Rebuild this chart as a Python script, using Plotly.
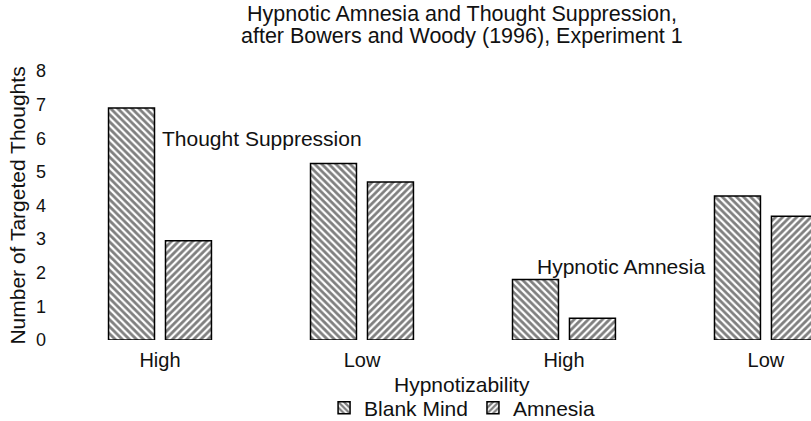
import plotly.graph_objects as go

# values
categories = ["High", "Low", "High", "Low"]
blank_mind = [6.9, 5.25, 1.8, 4.28]
amnesia = [2.95, 4.7, 0.65, 3.68]
y_ticks = [0, 1, 2, 3, 4, 5, 6, 7, 8]

FONT = "Liberation Sans, Arial, Helvetica, sans-serif"
x_pos = list(range(len(categories)))

fig = go.Figure()
fig.add_trace(go.Bar(
    name="Blank Mind", x=x_pos, y=blank_mind,
    marker=dict(color="white", line=dict(color="black", width=1.5),
                pattern=dict(shape="\\", size=5, solidity=0.55,
                             fgcolor="black", bgcolor="white")),
))
fig.add_trace(go.Bar(
    name="Amnesia", x=x_pos, y=amnesia,
    marker=dict(color="white", line=dict(color="black", width=1.5),
                pattern=dict(shape="/", size=5, solidity=0.55,
                             fgcolor="black", bgcolor="white")),
))

fig.update_layout(
    width=811, height=421,
    margin=dict(l=59, r=0, t=71, b=81, autoexpand=False),
    paper_bgcolor="white", plot_bgcolor="white",
    font=dict(family=FONT, size=21, color="#111"),
    barmode="group", bargap=0.436, bargroupgap=0.193,
    showlegend=True,
    legend=dict(orientation="h", x=0.536, xanchor="center", y=-0.253, yanchor="middle",
                font=dict(size=21), bgcolor="rgba(0,0,0,0)"),
)
fig.update_xaxes(tickvals=x_pos, ticktext=categories, range=[-0.5, 3.223],
                 showline=False, showgrid=False, zeroline=False, ticks="",
                 automargin=False, ticklabelstandoff=6, tickfont=dict(size=20))
fig.update_yaxes(range=[0, 8], tickvals=y_ticks, showline=False, showgrid=False,
                 zeroline=False, ticks="", ticklabelstandoff=12, automargin=False,
                 tickfont=dict(size=18),
                 title=dict(text="Number of Targeted Thoughts", standoff=4,
                            font=dict(size=21)))

# two title lines, placed separately to keep the tight line spacing of the scan
fig.add_annotation(text="Hypnotic Amnesia and Thought Suppression,", xref="paper", yref="paper",
                   x=0.536, y=1 + 57 / 269, xanchor="center", yanchor="middle", showarrow=False,
                   font=dict(size=21.5))
fig.add_annotation(text="after Bowers and Woody (1996), Experiment 1", xref="paper", yref="paper",
                   x=0.536, y=1 + 35 / 269, xanchor="center", yanchor="middle", showarrow=False,
                   font=dict(size=21.5))
fig.add_annotation(text="Hypnotizability", xref="paper", yref="paper",
                   x=0.536, y=-0.164, xanchor="center", yanchor="middle", showarrow=False)
fig.add_annotation(text="Thought Suppression", x=0, y=6, xanchor="left", yanchor="middle",
                   showarrow=False)
fig.add_annotation(text="Hypnotic Amnesia", x=2.71, y=2.2, xanchor="right", yanchor="middle",
                   showarrow=False)

# drop the browser's default page margin so the figure sits at the window corner
fig.write_html("out.html", config={"displayModeBar": False},
               post_script="document.body.style.margin='0';")
